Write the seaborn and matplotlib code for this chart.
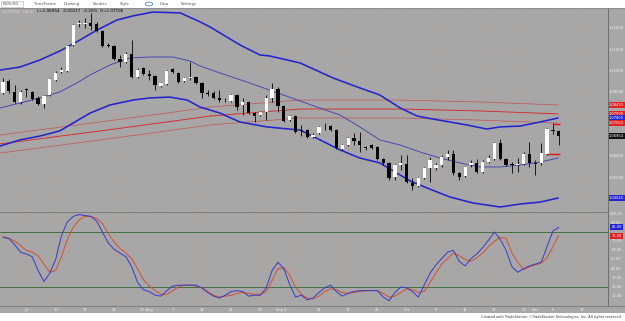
import matplotlib
matplotlib.use("Agg")
import matplotlib.pyplot as plt
from matplotlib.patches import Rectangle
import numpy as np
import pandas as pd
import seaborn as sns

W, H = 625, 321
GRAY = "#a7a7a7"

# EURUSD daily candles (27 Jun - 7 Nov 2023)
opens = [1.0899, 1.0954, 1.0902, 1.0855, 1.0916, 1.0902, 1.0874, 1.0846, 1.0888, 1.0958,
         1.0996, 1.1000, 1.1123, 1.1223, 1.1221, 1.1226, 1.1221, 1.1188, 1.1123, 1.1118,
         1.1057, 1.1043, 1.1080, 1.0972, 1.1015, 1.0986, 1.0977, 1.0930, 1.0939, 1.1010,
         1.0991, 1.0954, 1.0968, 1.0972, 1.0944, 1.0897, 1.0897, 1.0874, 1.0864, 1.0860,
         1.0888, 1.0841, 1.0855, 1.0803, 1.0794, 1.0808, 1.0874, 1.0916, 1.0836, 1.0770,
         1.0789, 1.0723, 1.0723, 1.0691, 1.0709, 1.0742, 1.0742, 1.0723, 1.0634, 1.0653,
         1.0686, 1.0672, 1.0641, 1.0653, 1.0644, 1.0587, 1.0569, 1.0503, 1.0559, 1.0564,
         1.0475, 1.0461, 1.0498, 1.0545, 1.0545, 1.0559, 1.0597, 1.0611, 1.0522, 1.0507,
         1.0559, 1.0569, 1.0526, 1.0573, 1.0587, 1.0662, 1.0587, 1.0561, 1.0559, 1.0564,
         1.0611, 1.0569, 1.0569, 1.0611, 1.0724, 1.07196]
highs = [1.0968, 1.0963, 1.0935, 1.0911, 1.0921, 1.0907, 1.0883, 1.0888, 1.0968, 1.1000,
         1.1019, 1.1123, 1.1221, 1.1240, 1.1249, 1.1273, 1.1231, 1.1193, 1.1132, 1.1123,
         1.1076, 1.1090, 1.1146, 1.1015, 1.1019, 1.1005, 1.0982, 1.0949, 1.1005, 1.1015,
         1.0996, 1.0972, 1.1043, 1.0977, 1.0949, 1.0911, 1.0907, 1.0911, 1.0874, 1.0892,
         1.0892, 1.0874, 1.0860, 1.0808, 1.0813, 1.0888, 1.0944, 1.0925, 1.0841, 1.0794,
         1.0794, 1.0747, 1.0728, 1.0709, 1.0742, 1.0756, 1.0747, 1.0728, 1.0658, 1.0691,
         1.0709, 1.0714, 1.0648, 1.0658, 1.0648, 1.0592, 1.0573, 1.0564, 1.0606, 1.0606,
         1.0498, 1.0503, 1.0550, 1.0597, 1.0569, 1.0606, 1.0630, 1.0630, 1.0526, 1.0554,
         1.0583, 1.0587, 1.0583, 1.0606, 1.0667, 1.0681, 1.0592, 1.0573, 1.0592, 1.0620,
         1.0667, 1.0583, 1.0662, 1.0733, 1.0754, 1.0723]
lows = [1.0892, 1.0897, 1.0850, 1.0846, 1.0878, 1.0864, 1.0841, 1.0827, 1.0883, 1.0954,
        1.0991, 1.0996, 1.1118, 1.1207, 1.1202, 1.1193, 1.1184, 1.1113, 1.1113, 1.1052,
        1.1019, 1.1038, 1.0968, 1.0968, 1.0982, 1.0958, 1.0911, 1.0925, 1.0935, 1.0991,
        1.0944, 1.0949, 1.0958, 1.0939, 1.0874, 1.0883, 1.0869, 1.0855, 1.0855, 1.0855,
        1.0817, 1.0794, 1.0799, 1.0761, 1.0789, 1.0770, 1.0855, 1.0808, 1.0761, 1.0766,
        1.0709, 1.0695, 1.0686, 1.0686, 1.0705, 1.0723, 1.0719, 1.0634, 1.0630, 1.0648,
        1.0653, 1.0620, 1.0630, 1.0634, 1.0583, 1.0559, 1.0489, 1.0489, 1.0536, 1.0475,
        1.0442, 1.0456, 1.0493, 1.0479, 1.0536, 1.0550, 1.0583, 1.0512, 1.0489, 1.0503,
        1.0550, 1.0522, 1.0522, 1.0569, 1.0583, 1.0583, 1.0554, 1.0522, 1.0526, 1.0559,
        1.0550, 1.0512, 1.0559, 1.0606, 1.0705, 1.0653]
closes = [1.0950, 1.0907, 1.0855, 1.0902, 1.0911, 1.0869, 1.0846, 1.0883, 1.0963, 1.0991,
          1.1005, 1.1118, 1.1216, 1.1226, 1.1226, 1.1212, 1.1188, 1.1118, 1.1118, 1.1057,
          1.1043, 1.1080, 1.0972, 1.1005, 1.0986, 1.0977, 1.0935, 1.0944, 1.1000, 1.0996,
          1.0949, 1.0968, 1.0972, 1.0944, 1.0897, 1.0892, 1.0874, 1.0864, 1.0862, 1.0888,
          1.0831, 1.0855, 1.0803, 1.0789, 1.0808, 1.0874, 1.0916, 1.0836, 1.0766, 1.0789,
          1.0714, 1.0719, 1.0691, 1.0700, 1.0738, 1.0740, 1.0723, 1.0639, 1.0653, 1.0686,
          1.0672, 1.0653, 1.0639, 1.0639, 1.0587, 1.0569, 1.0498, 1.0559, 1.0569, 1.0479,
          1.0461, 1.0498, 1.0545, 1.0583, 1.0559, 1.0597, 1.0611, 1.0522, 1.0503, 1.0550,
          1.0569, 1.0526, 1.0573, 1.0592, 1.0662, 1.0587, 1.0559, 1.0559, 1.0561, 1.0611,
          1.0569, 1.0564, 1.0615, 1.0728, 1.0717, 1.06954]

# Bollinger bands (20) read at points along the lines: candle position, price
bb_up_x = [-0.5, 2.9, 6.3, 9.7, 12.6, 14.9, 16.1, 19.5, 22.2, 25.6, 30.3, 33.7, 35.4, 40.5,
           43.9, 45.6, 50.8, 56.4, 61.0, 64.4, 67.9, 70.8, 73.5, 79.3, 82.7, 85.0, 88.4, 91.8, 94.9]
bb_up = [1.1005, 1.1019, 1.1052, 1.1094, 1.1137, 1.1174, 1.1193, 1.1240, 1.1259, 1.1277,
         1.1273, 1.1231, 1.1207, 1.1123, 1.1076, 1.1071, 1.1038, 1.0968, 1.0921, 1.0888,
         1.0827, 1.0789, 1.0775, 1.0747, 1.0728, 1.0738, 1.0742, 1.0761, 1.0780]
bb_mid_x = [-0.5, 2.9, 6.3, 9.7, 12.6, 14.9, 18.3, 21.7, 25.1, 29.1, 32.0, 33.7, 37.1, 42.2,
            47.9, 53.7, 57.6, 61.0, 64.4, 67.9, 71.3, 74.7, 78.1, 81.5, 85.0, 88.4, 91.8, 94.9]
bb_mid = [1.0827, 1.0850, 1.0874, 1.0902, 1.0944, 1.0982, 1.1029, 1.1062, 1.1066, 1.1066,
          1.1047, 1.1024, 1.0991, 1.0944, 1.0888, 1.0831, 1.0794, 1.0738, 1.0677, 1.0653,
          1.0620, 1.0592, 1.0569, 1.0550, 1.0550, 1.0559, 1.0573, 1.0592]
bb_lo_x = [-0.5, 2.9, 6.3, 9.7, 12.6, 14.9, 18.3, 22.2, 25.1, 28.5, 31.5, 33.7, 37.1, 40.5,
           45.1, 50.8, 54.2, 57.6, 61.0, 64.4, 67.9, 69.6, 72.5, 76.4, 80.3, 85.0, 88.4, 91.8, 94.9]
bb_lo = [1.0648, 1.0677, 1.0695, 1.0719, 1.0766, 1.0803, 1.0841, 1.0864, 1.0874, 1.0878,
         1.0864, 1.0831, 1.0803, 1.0761, 1.0738, 1.0723, 1.0677, 1.0630, 1.0592, 1.0569,
         1.0512, 1.0484, 1.0451, 1.0409, 1.0381, 1.0362, 1.0376, 1.0385, 1.0404]

# long moving average envelope (red lines)
env_x = [-0.5, 16.6, 28.0, 35.4, 50.8, 67.9, 81.5, 94.9]
env_up = [1.0700, 1.0761, 1.0803, 1.0831, 1.0864, 1.0864, 1.0855, 1.0841]
env_mid = [1.0658, 1.0719, 1.0761, 1.0789, 1.0822, 1.0822, 1.0813, 1.0799]
env_lo = [1.0615, 1.0677, 1.0719, 1.0747, 1.0780, 1.0780, 1.0770, 1.0756]

# short red marks at the right end
mark_prices = [1.0752, 1.0611]
mark_from = [94.0, 93.0]
mark_to = [95.3, 95.3]

# slow stochastic
stoch_k = [74, 73, 66, 58, 56, 53, 38, 26, 35, 50, 76, 91, 97, 99, 98, 97, 92, 80, 68, 61,
           57, 53, 42, 25, 17, 15, 11, 10, 16, 21, 22, 22, 22, 22, 19, 14, 10, 8, 11, 15,
           16, 15, 10, 11, 11, 19, 38, 47, 40, 23, 9, 11, 6, 8, 14, 19, 22, 15, 10, 13,
           15, 16, 16, 16, 16, 9, 5, 14, 20, 19, 15, 9, 22, 35, 44, 51, 58, 60, 48, 43,
           51, 56, 63, 71, 80, 72, 60, 42, 36, 40, 43, 45, 47, 64, 81, 85]
stoch_d = [75, 73, 70, 65, 60, 58, 54, 45, 36, 38, 53, 72, 85, 93, 97, 97, 95, 89, 78, 69,
           62, 57, 51, 40, 28, 21, 16, 12, 12, 16, 20, 22, 22, 21, 19, 15, 11, 9, 10, 11,
           13, 14, 13, 12, 12, 15, 27, 40, 41, 33, 20, 12, 8, 7, 10, 15, 18, 17, 14, 13,
           14, 15, 16, 16, 16, 13, 9, 10, 14, 18, 17, 14, 15, 25, 35, 45, 51, 57, 54, 50,
           48, 52, 57, 64, 70, 74, 73, 57, 47, 39, 42, 44, 46, 52, 64, 76]

tick_pos = [4, 9, 14, 19, 24.5, 29, 34, 39, 44, 47.5, 54, 59, 64, 69, 74, 79, 84, 89, 91, 94, 99]
tick_lab = ["Jul", "10", "17", "24", "31 Aug", "7", "14", "21", "28", "Sep 4", "11", "18", "25",
            "Oct", "9", "16", "23", "30", "Nov", "6", "13"]
grid_pos = [4, 9, 14, 19, 24, 29, 34, 39, 44, 49, 54, 59, 64, 69, 74, 79, 84, 89, 94, 99]
price_ticks = [1.04, 1.05, 1.06, 1.07, 1.08, 1.09, 1.10, 1.11, 1.12]
stoch_ticks = [10, 20, 30, 40, 50, 60, 70, 80, 90, 100]

sns.set_style("white")
fig = plt.figure(figsize=(W / 100, H / 100), dpi=100)
fig.patch.set_facecolor("white")


def fx(px):
    return px / W


def fy(py):
    return 1 - py / H


fig.add_artist(Rectangle((0, fy(313)), 1, fy(8) - fy(313), transform=fig.transFigure,
                         facecolor=GRAY, edgecolor="none", zorder=0))

XMIN, XMAX = -0.51, 103.42
ax = fig.add_axes([0, fy(211), fx(608), fy(8) - fy(211)])
ax2 = fig.add_axes([0, fy(306), fx(608), fy(212) - fy(306)])
for a in (ax, ax2):
    a.set_facecolor(GRAY)
    a.set_xlim(XMIN, XMAX)
    a.set_xticks([])
    a.set_yticks([])
    for s in a.spines.values():
        s.set_visible(False)
ax.set_ylim(1.03432, 1.12962)
ax2.set_ylim(-0.76, 101.8)

gridc = "#b89a9a"
for a in (ax, ax2):
    a.vlines(grid_pos, *a.get_ylim(), color=gridc, lw=0.5, ls=(0, (1, 1)), zorder=1)
ax.hlines(price_ticks, XMIN, XMAX, color=gridc, lw=0.5, ls=(0, (1, 1)), zorder=1)
ax2.hlines(stoch_ticks, XMIN, XMAX, color=gridc, lw=0.5, ls=(0, (1, 1)), zorder=1)

# red envelope
for vals, c, w in [(env_up, "#c45252", 0.5), (env_mid, "#d62a2a", 0.65), (env_lo, "#c45252", 0.5)]:
    sns.lineplot(x=env_x, y=vals, ax=ax, color=c, lw=w, estimator=None, sort=False, zorder=2)

# Bollinger
sns.lineplot(x=bb_mid_x, y=bb_mid, ax=ax, color="#4848b4", lw=0.7, estimator=None, sort=False, zorder=2)
sns.lineplot(x=bb_up_x, y=bb_up, ax=ax, color="#2424cc", lw=1.15, estimator=None, sort=False, zorder=2)
sns.lineplot(x=bb_lo_x, y=bb_lo, ax=ax, color="#2424cc", lw=1.15, estimator=None, sort=False, zorder=2)

# candles
o = np.array(opens)
c = np.array(closes)
idx = np.arange(len(c))
ax.vlines(idx, lows, highs, color="black", lw=0.6, zorder=3)
lo_b = np.minimum(o, c)
h_b = np.maximum(np.abs(c - o), 0.00025)
cols = np.where(c >= o, "white", "black")
ax.bar(idx, h_b, bottom=lo_b, width=0.56, color=cols, edgecolor="none", zorder=4)

ax.hlines(mark_prices, mark_from, mark_to, color="#e01818", lw=1.0, zorder=5)

# stochastic
ax2.axhline(80, color="#2f6a2f", lw=0.6, zorder=2)
ax2.axhline(20, color="#2f6a2f", lw=0.6, zorder=2)
sdf = pd.DataFrame({"i": idx, "k": stoch_k, "d": stoch_d})
sns.lineplot(data=sdf, x="i", y="d", ax=ax2, color="#d4502c", lw=0.7, estimator=None, zorder=3)
sns.lineplot(data=sdf, x="i", y="k", ax=ax2, color="#3838cc", lw=0.7, estimator=None, zorder=4)
for a in (ax, ax2):
    a.set_xlabel("")
    a.set_ylabel("")

# frame lines
fig.add_artist(plt.Line2D([fx(608), fx(608)], [fy(306), fy(8)], color="#6e6e6e", lw=0.7))
fig.add_artist(plt.Line2D([0, fx(608)], [fy(211.5), fy(211.5)], color="#7c7c7c", lw=0.7))
fig.add_artist(plt.Line2D([0, 1], [fy(306), fy(306)], color="#7c7c7c", lw=0.7))
fig.add_artist(plt.Line2D([0, 1], [fy(8), fy(8)], color="#8a8a8a", lw=0.6))

# right axis labels
lab_c = "#f2f2f2"
yt = ax.get_yaxis_transform()
for p in price_ticks:
    if p in (1.04, 1.07, 1.08):
        continue
    ax.text(1.014, p, f"{p:.5f}", transform=yt, fontsize=2.6, color=lab_c,
            ha="center", va="center", clip_on=False)
boxes = [(env_up[-1], "#e02222"), (env_mid[-1], "#e02222"), (bb_up[-1], "#2424d8"),
         (env_lo[-1], "#e02222"), (closes[-1], "#111111"), (bb_lo[-1], "#2424d8")]
for p, bc in boxes:
    ax.text(1.014, p, f"{p:.5f}", transform=yt, fontsize=2.6, color="white", ha="center",
            va="center", clip_on=False,
            bbox=dict(boxstyle="square,pad=0.25", fc=bc, ec="none"))
yt2 = ax2.get_yaxis_transform()
for v in stoch_ticks:
    if v == 80:
        continue
    ax2.text(1.014, v, f"{v:.2f}", transform=yt2, fontsize=2.6, color=lab_c,
             ha="center", va="center", clip_on=False)
for v, bc in [(stoch_k[-1], "#2424d8"), (stoch_d[-1], "#e02222")]:
    ax2.text(1.014, v, f"{v:.2f}", transform=yt2, fontsize=2.6, color="white", ha="center",
             va="center", clip_on=False,
             bbox=dict(boxstyle="square,pad=0.3", fc=bc, ec="none"))

# date labels
xt = ax2.get_xaxis_transform()
for p, t in zip(tick_pos, tick_lab):
    ax2.text(p, -0.045, t, transform=xt, fontsize=2.6, color=lab_c, ha="center",
             va="center", clip_on=False)

# toolbar
tb_c = "#555555"
fig.add_artist(Rectangle((fx(1), fy(7)), fx(22), fy(1) - fy(7), transform=fig.transFigure,
                         facecolor="white", edgecolor="#b0b0b0", lw=0.4))
fig.text(fx(3), fy(4), "EURUSD", fontsize=2.8, color=tb_c, va="center")
for x0, t in [(34, "TimeFrame"), (64, "Drawing"), (93, "Studies"), (120, "Style"),
              (160, "Data"), (181, "Settings")]:
    fig.text(fx(x0), fy(4), t, fontsize=2.8, color=tb_c, va="center")
fig.add_artist(plt.Circle((fx(149), fy(4)), 0.006, transform=fig.transFigure,
                          facecolor="none", edgecolor="#3a6fc0", lw=0.5))

# info line
fig.text(fx(3), fy(11.5), "EURUSD  Daily", fontsize=3.0, color="#d8d8d8", va="center")
fig.text(fx(37), fy(11.5), "L=1.06954  -0.00217  -0.20%  O=1.07196", fontsize=3.0,
         color="black", va="center")

fig.text(fx(622), fy(317), "Created with TradeStation \u00a9TradeStation Technologies, Inc. All rights reserved.",
         fontsize=2.5, color="#333333", ha="right", va="center")

fig.savefig("out.png", dpi=100, facecolor="white")
